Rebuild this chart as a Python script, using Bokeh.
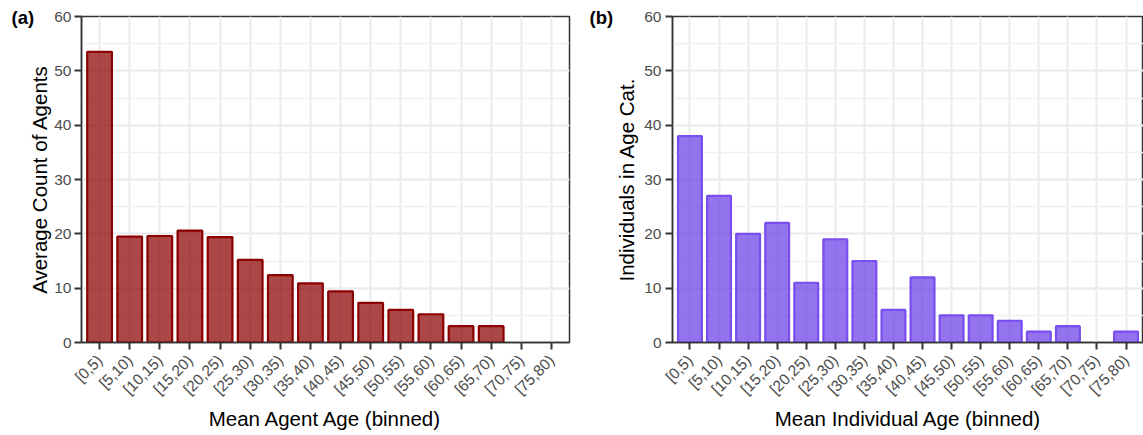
import math
from bokeh.plotting import figure
from bokeh.layouts import row
from bokeh.models import FactorRange, Range1d, Label, SingleIntervalTicker, ColumnDataSource
from bokeh.embed import file_html
from bokeh.resources import INLINE

age_bins = ["[0,5)", "[5,10)", "[10,15)", "[15,20)", "[20,25)", "[25,30)", "[30,35)",
            "[35,40)", "[40,45)", "[45,50)", "[50,55)", "[55,60)", "[60,65)", "[65,70)",
            "[70,75)", "[75,80)"]
agent_counts = [53.5, 19.5, 19.6, 20.6, 19.4, 15.2, 12.4, 10.9, 9.4, 7.3, 6.0, 5.2, 3.0, 3.0, 0, 0]
individual_counts = [38, 27, 20, 22, 11, 19, 15, 6, 12, 5, 5, 4, 2, 3, 0, 2]
y_max = 60
y_step = 10

FONT = "Liberation Sans"
PAD = 0.1
TOP = 16
BOTTOM = 93
HEIGHT = 435


def make_panel(values, xlabel, ylabel, fill, line, tag, width, left, right, tag_x,
               lab_standoff, title_standoff):
    p = figure(x_range=FactorRange(factors=age_bins, range_padding=PAD,
                                   range_padding_units="absolute"),
               y_range=Range1d(0, y_max),
               width=width, height=HEIGHT, output_backend="svg", toolbar_location=None,
               min_border_left=left, min_border_right=right,
               min_border_top=TOP, min_border_bottom=BOTTOM)
    src = ColumnDataSource(dict(x=[a for a, v in zip(age_bins, values) if v > 0],
                                top=[v for v in values if v > 0]))
    p.vbar(x="x", top="top", width=0.82, source=src, fill_color=fill, fill_alpha=0.72,
           line_color=line, line_width=2.2)
    p.background_fill_color = "white"
    p.border_fill_color = "white"
    p.outline_line_color = "#333333"
    p.outline_line_width = 1.5
    p.yaxis.ticker = SingleIntervalTicker(interval=y_step, num_minor_ticks=2)
    for ax in (p.xaxis[0], p.yaxis[0]):
        ax.axis_line_color = "#333333"
        ax.axis_line_width = 1.5
        ax.major_tick_line_color = "#333333"
        ax.major_tick_line_width = 2
        ax.major_tick_out = 7
        ax.major_tick_in = 0
        ax.minor_tick_line_color = None
        ax.major_label_text_font = FONT
        ax.major_label_text_font_size = "15.5px"
        ax.major_label_text_color = "#4D4D4D"
        ax.axis_label_text_font = FONT
        ax.axis_label_text_font_size = "20.5px"
        ax.axis_label_text_font_style = "normal"
        ax.axis_label_text_color = "black"
    p.xaxis.major_label_standoff = 8
    p.yaxis.major_label_standoff = lab_standoff
    p.xaxis.axis_label = xlabel
    p.yaxis.axis_label = ylabel
    p.xaxis.major_label_orientation = math.pi / 4
    p.xaxis.axis_label_standoff = 0
    p.yaxis.axis_label_standoff = title_standoff
    p.xgrid.grid_line_color = "#EBEBEB"
    p.xgrid.grid_line_width = 2
    p.ygrid.grid_line_color = "#EBEBEB"
    p.ygrid.grid_line_width = 2
    p.ygrid.minor_grid_line_color = "#F0F0F0"
    p.ygrid.minor_grid_line_width = 1.3
    # panel tag in the left margin (outside the y axis), top-left of the panel
    frame_h = HEIGHT - TOP - BOTTOM
    p.add_layout(Label(x=tag_x, y=frame_h + TOP - 6, x_units="screen", y_units="screen",
                       text=tag, text_font=FONT, text_font_style="bold",
                       text_font_size="18.5px", text_baseline="top", text_align="left",
                       text_color="black"), "left")
    return p


pa = make_panel(agent_counts, "Mean Agent Age (binned)", "Average Count of Agents",
                "#8B0000", "#8B0000", "(a)", 588, 81, 19, 9, 3, 0)
pb = make_panel(individual_counts, "Mean Individual Age (binned)", "Individuals in Age Cat.",
                "#6A3DE8", "#7A4DF0", "(b)", 555, 84, 0, 1, 4, 3)

layout = row(pa, pb, spacing=0)
open("out.html", "w").write(file_html(layout, INLINE))
